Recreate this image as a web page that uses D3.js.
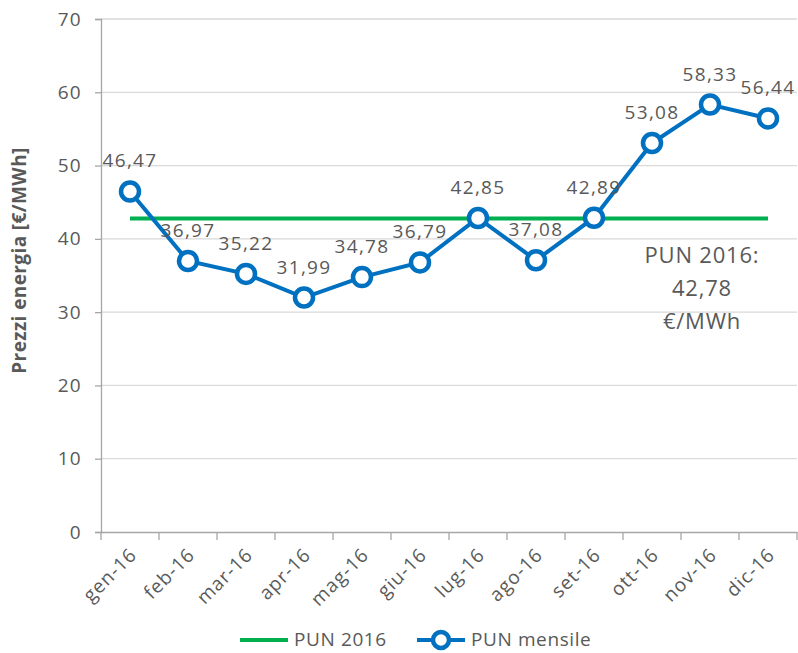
<!DOCTYPE html>
<html>
<head>
<meta charset="utf-8">
<script src="https://cdn.jsdelivr.net/npm/d3@7"></script>
<style>
  body { margin: 0; background: #fff; }
  text { font-family: "Open Sans", "Noto Sans", sans-serif; fill: #595959; }
</style>
</head>
<body>
<div id="my_dataviz"></div>
<script>
// data
var months = ["gen-16","feb-16","mar-16","apr-16","mag-16","giu-16","lug-16","ago-16","set-16","ott-16","nov-16","dic-16"];
var punMensile = [46.47, 36.97, 35.22, 31.99, 34.78, 36.79, 42.85, 37.08, 42.89, 53.08, 58.33, 56.44];
var pun2016 = 42.78;
var yTicks = [0, 10, 20, 30, 40, 50, 60, 70];
var seriesNames = ["PUN 2016", "PUN mensile"];

var blue = "#0070C0", green = "#00B050";

// dimensions and margins of the graph
var margin = {top: 19, right: 1, bottom: 121, left: 101},
    width = 798 - margin.left - margin.right,
    height = 653 - margin.top - margin.bottom;

var svg = d3.select("#my_dataviz")
  .append("svg")
    .attr("width", 798)
    .attr("height", 653)
  .append("g")
    .attr("transform", "translate(" + margin.left + "," + margin.top + ")");

// X axis: one band per month
var x = d3.scaleBand()
  .domain(months)
  .range([0, width]);
var cx = function(d) { return x(d) + x.bandwidth() / 2; };

// Y axis
var y = d3.scaleLinear()
  .domain([0, 70])
  .range([height, 0]);

// gridlines
svg.append("g")
  .selectAll("line")
  .data(yTicks.slice(1))
  .enter()
  .append("line")
    .attr("x1", 0)
    .attr("x2", width)
    .attr("y1", function(d) { return y(d); })
    .attr("y2", function(d) { return y(d); })
    .attr("stroke", "#d9d9d9")
    .attr("stroke-width", 1.3);

// y axis
var yAxis = svg.append("g")
  .call(d3.axisLeft(y).tickValues(yTicks).tickSize(6).tickPadding(13));
yAxis.select(".domain").attr("stroke", "#a6a6a6").attr("stroke-width", 1.3);
yAxis.selectAll(".tick line").attr("stroke", "#a6a6a6").attr("stroke-width", 1.3);
yAxis.selectAll(".tick text")
  .style("font-size", "19px")
  .style("letter-spacing", "1.3px")
  .attr("fill", "#595959");

// x axis, ticks between the bands
var xAxis = svg.append("g")
  .attr("transform", "translate(0," + height + ")")
  .call(d3.axisBottom(x).tickSize(0).tickPadding(0).tickFormat(""));
xAxis.select(".domain").attr("stroke", "#a6a6a6").attr("stroke-width", 1.3);
xAxis.selectAll(".tick").remove();

xAxis.selectAll("line.sep")
  .data(months.concat(["end"]))
  .enter()
  .append("line")
    .attr("class", "sep")
    .attr("x1", function(d, i) { return i * x.bandwidth(); })
    .attr("x2", function(d, i) { return i * x.bandwidth(); })
    .attr("y1", 0)
    .attr("y2", 8)
    .attr("stroke", "#a6a6a6")
    .attr("stroke-width", 1.3);

xAxis.selectAll("text.lbl")
  .data(months)
  .enter()
  .append("text")
    .attr("class", "lbl")
    .attr("text-anchor", "end")
    .attr("transform", function(d) { return "translate(" + (cx(d) + 8) + ",24) rotate(-45)"; })
    .style("font-size", "19px")
    .style("letter-spacing", "1px")
    .text(function(d) { return d; });

// y axis title
svg.append("text")
  .attr("transform", "translate(" + (-75) + "," + (y(35) - 15) + ") rotate(-90)")
  .attr("text-anchor", "middle")
  .style("font-size", "19px")
  .style("font-weight", "bold")
  .style("letter-spacing", "0.4px")
  .text("Prezzi energia [€/MWh]");

// PUN 2016 line
svg.append("path")
  .datum(months)
  .attr("d", d3.line()
    .x(function(d) { return cx(d); })
    .y(function() { return y(pun2016); }))
  .attr("stroke", green)
  .attr("stroke-width", 4)
  .attr("fill", "none");

// PUN mensile line
svg.append("path")
  .datum(punMensile)
  .attr("d", d3.line()
    .x(function(d, i) { return cx(months[i]); })
    .y(function(d) { return y(d); }))
  .attr("stroke", blue)
  .attr("stroke-width", 4)
  .attr("fill", "none");

// data labels
svg.append("g")
  .selectAll("text")
  .data(punMensile)
  .enter()
  .append("text")
    .attr("x", function(d, i) { return cx(months[i]); })
    .attr("y", function(d) { return y(d) - 24; })
    .attr("text-anchor", "middle")
    .style("font-size", "19px")
    .style("letter-spacing", "1.3px")
    .text(function(d) { return d.toFixed(2).replace(".", ","); });

// markers
svg.append("g")
  .selectAll("circle")
  .data(punMensile)
  .enter()
  .append("circle")
    .attr("cx", function(d, i) { return cx(months[i]); })
    .attr("cy", function(d) { return y(d); })
    .attr("r", 9)
    .attr("fill", "#fff")
    .attr("stroke", blue)
    .attr("stroke-width", 4.5);

// PUN 2016 annotation
var note = svg.append("text")
  .attr("text-anchor", "middle")
  .style("font-size", "22px")
  .style("letter-spacing", "0.8px");
["PUN 2016:", String(pun2016).replace(".", ","), "€/MWh"].forEach(function(t, i) {
  note.append("tspan")
    .attr("x", 601)
    .attr("y", 244 + i * 33)
    .text(t);
});

// legend
var legend = svg.append("g")
  .attr("transform", "translate(0," + (640 - margin.top) + ")");

legend.append("line")
  .attr("x1", 240 - margin.left).attr("x2", 288 - margin.left)
  .attr("stroke", green).attr("stroke-width", 4);
legend.append("text")
  .attr("x", 294 - margin.left).attr("y", 6)
  .style("font-size", "19px")
  .style("letter-spacing", "0.6px")
  .text(seriesNames[0]);

legend.append("line")
  .attr("x1", 417 - margin.left).attr("x2", 465 - margin.left)
  .attr("stroke", blue).attr("stroke-width", 4);
legend.append("circle")
  .attr("cx", 441 - margin.left).attr("r", 8)
  .attr("fill", "#fff").attr("stroke", blue).attr("stroke-width", 4.5);
legend.append("text")
  .attr("x", 471 - margin.left).attr("y", 6)
  .style("font-size", "19px")
  .style("letter-spacing", "0.6px")
  .text(seriesNames[1]);
</script>
</body>
</html>
